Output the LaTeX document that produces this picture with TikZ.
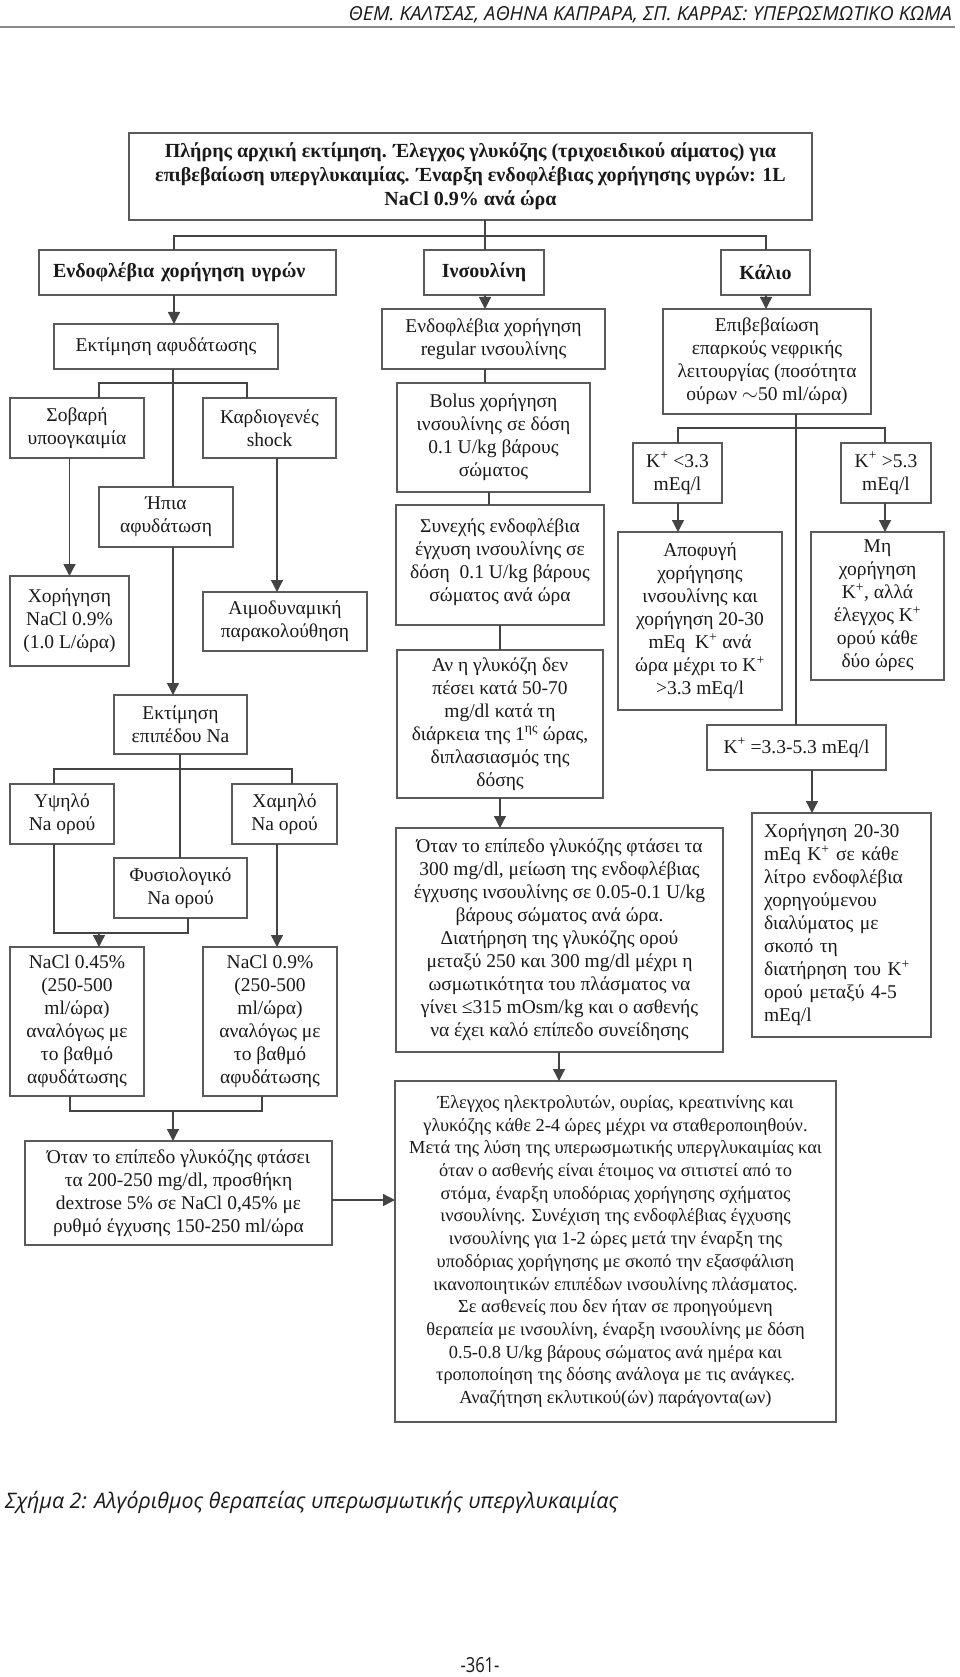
\documentclass[tikz,border=0pt]{standalone}
\usepackage{fontspec}
\usepackage{graphicx}
\setmainfont{Liberation Serif}
\newfontfamily\hdrfont{Open Sans}
\usetikzlibrary{arrows.meta}
\definecolor{txt}{HTML}{1A1A1A}
\definecolor{boxc}{HTML}{5A5A5A}
\definecolor{linec}{HTML}{444444}
\definecolor{rulec}{HTML}{8A8A8A}
\newcommand\fs{\fontsize{19.5}{23}\selectfont}
\newcommand\fsb{\fontsize{18.4}{22.7}\selectfont}
\newcommand\fb{\fontsize{20}{24}\selectfont\bfseries}
\tikzset{
  box/.style={draw=boxc, line width=1.2pt, fill=white, align=center, font=\fs,
    text=txt, inner xsep=2pt, inner ysep=0pt, outer sep=0pt},
  bbox/.style={box, font=\fb},
  ln/.style={draw=linec, line width=1.3pt},
  arr/.style={ln, -{Triangle[length=12pt,width=12pt]}, color=linec},
}
\newcommand\B[7][]{\node[box,minimum width={#5-#3},minimum height={#6-#4},#1] (#2) at ({(#3+#5)/2},{(#4+#6)/2}) {#7};}
\newcommand\Kp{K\textsuperscript{+}}
\begin{document}
\begin{tikzpicture}[x=1pt,y=-1pt]
\fill[white] (0,0) rectangle (960,1677);
\useasboundingbox (0,0) rectangle (960,1677);

% header
\node[anchor=base east, inner sep=0pt, text=txt] (hdr) at (952,21)
  {\resizebox{603pt}{14pt}{\hdrfont\itshape ΘΕΜ. ΚΑΛΤΣΑΣ, ΑΘΗΝΑ ΚΑΠΡΑΡΑ, ΣΠ. ΚΑΡΡΑΣ: ΥΠΕΡΩΣΜΩΤΙΚΟ ΚΩΜΑ}};
\draw[rulec, line width=2pt] (0,27) -- (955,27);

% top
\B[bbox]{top}{129}{133}{812}{220}{Πλήρης αρχική εκτίμηση. Έλεγχος γλυκόζης (τριχοειδικού αίματος) για\\επιβεβαίωση υπεργλυκαιμίας. Έναρξη ενδοφλέβιας χορήγησης υγρών: 1L\\NaCl 0.9\% ανά ώρα}

% row 2
\B[bbox, text width=269pt, inner xsep=14pt, align=left]{A}{39}{250}{336}{295}{Ενδοφλέβια χορήγηση υγρών}
\B[bbox]{Ins}{424}{250}{544}{295}{Ινσουλίνη}
\B[bbox]{Ka}{721}{250}{810}{295}{Κάλιο}

% left column
\B{E1}{54}{324}{278}{369}{Εκτίμηση αφυδάτωσης}
\B{S}{10}{398}{144}{458}{Σοβαρή\\υποογκαιμία}
\B{K}{203}{398}{336}{458}{Καρδιογενές\\shock}
\B{H}{99}{487}{233}{547}{Ήπια\\αφυδάτωση}
\B{X}{10}{576}{129}{666}{Χορήγηση\\NaCl 0.9\%\\(1.0 L/ώρα)}
\B{M}{203}{592}{367}{651}{Αιμοδυναμική\\παρακολούθηση}
\B{N}{114}{695}{247}{754}{Εκτίμηση\\επιπέδου Na}
\B{U}{10}{784}{114}{844}{Υψηλό\\Na ορού}
\B{L}{232}{784}{337}{844}{Χαμηλό\\Na ορού}
\B{F}{114}{858}{247}{918}{Φυσιολογικό\\Na ορού}
\B{N1}{10}{947}{144}{1096}{NaCl 0.45\%\\(250-500\\ml/ώρα)\\αναλόγως με\\το βαθμό\\αφυδάτωσης}
\B{N2}{203}{947}{337}{1096}{NaCl 0.9\%\\(250-500\\ml/ώρα)\\αναλόγως με\\το βαθμό\\αφυδάτωσης}
\B{D}{25}{1141}{332}{1245}{Όταν το επίπεδο γλυκόζης φτάσει\\τα 200-250 mg/dl, προσθήκη\\dextrose 5\% σε NaCl 0,45\% με\\ρυθμό έγχυσης 150-250 ml/ώρα}

% insulin column
\B{R}{382}{309}{605}{369}{Ενδοφλέβια χορήγηση\\regular ινσουλίνης}
\B{Bo}{397}{383}{590}{492}{Bolus χορήγηση\\ινσουλίνης σε δόση\\0.1 U/kg βάρους\\σώματος}
\B{Sy}{396}{505}{604}{625}{Συνεχής ενδοφλέβια\\έγχυση ινσουλίνης σε\\δόση\ \ 0.1 U/kg βάρους\\σώματος ανά ώρα\\[-13pt]\mbox{}}
\B{Av}{397}{650}{603}{798}{Αν η γλυκόζη δεν\\πέσει κατά 50-70\\mg/dl κατά τη\\διάρκεια της 1\textsuperscript{ης} ώρας,\\διπλασιασμός της\\δόσης}
\B{O3}{396}{828}{723}{1052}{Όταν το επίπεδο γλυκόζης φτάσει τα\\300 mg/dl, μείωση της ενδοφλέβιας\\έγχυσης ινσουλίνης σε 0.05-0.1 U/kg\\βάρους σώματος ανά ώρα.\\Διατήρηση της γλυκόζης ορού\\μεταξύ 250 και 300 mg/dl μέχρι η\\ωσμωτικότητα του πλάσματος να\\γίνει ≤315 mOsm/kg και ο ασθενής\\να έχει καλό επίπεδο συνείδησης}
\B[font=\fsb]{Big}{395}{1081}{836}{1422}{Έλεγχος ηλεκτρολυτών, ουρίας, κρεατινίνης και\\γλυκόζης κάθε 2-4 ώρες μέχρι να σταθεροποιηθούν.\\Μετά της λύση της υπερωσμωτικής υπεργλυκαιμίας και\\όταν ο ασθενής είναι έτοιμος να σιτιστεί από το\\στόμα, έναρξη υποδόριας χορήγησης σχήματος\\ινσουλίνης. Συνέχιση της ενδοφλέβιας έγχυσης\\ινσουλίνης για 1-2 ώρες μετά την έναρξη της\\υποδόριας χορήγησης με σκοπό την εξασφάλιση\\ικανοποιητικών επιπέδων ινσουλίνης πλάσματος.\\Σε ασθενείς που δεν ήταν σε προηγούμενη\\θεραπεία με ινσουλίνη, έναρξη ινσουλίνης με δόση\\0.5-0.8 U/kg βάρους σώματος ανά ημέρα και\\τροποποίηση της δόσης ανάλογα με τις ανάγκες.\\Αναζήτηση εκλυτικού(ών) παράγοντα(ων)}

% potassium column
\B{Ep}{663}{309}{871}{414}{Επιβεβαίωση\\επαρκούς νεφρικής\\λειτουργίας (ποσότητα\\ούρων $\sim$50 ml/ώρα)}
\B{Kl}{633}{443}{722}{503}{\Kp\ <3.3\\mEq/l}
\B{Kh}{841}{443}{931}{503}{\Kp\ >5.3\\mEq/l}
\B{Ap}{618}{532}{782}{710}{Αποφυγή\\χορήγησης\\ινσουλίνης και\\χορήγηση 20-30\\mEq\ \ \Kp\ ανά\\ώρα μέχρι το \Kp\\>3.3 mEq/l}
\B{Mh}{811}{532}{944}{680}{Μη\\χορήγηση\\\Kp, αλλά\\έλεγχος \Kp\\ορού κάθε\\δύο ώρες}
\B{Ke}{707}{725}{886}{770}{\Kp\ =3.3-5.3 mEq/l}
\B[text width=155pt, inner xsep=12pt, align=left]{Xk}{752}{813}{931}{1037}{Χορήγηση 20-30\\mEq \Kp\ σε κάθε\\λίτρο ενδοφλέβια\\χορηγούμενου\\διαλύματος με\\σκοπό τη\\διατήρηση του \Kp\\ορού μεταξύ 4-5\\mEq/l}

% ---------- connectors
\coordinate (t0) at (485,236);
\coordinate (tl) at (174,236);
\coordinate (tr) at (766,236);
\draw[ln] (top.south -| t0) -- (t0);
\draw[ln] (tl |- A.north) -- (tl) -- (tr) -- (tr |- Ka.north);
\draw[ln] (t0) -- (t0 |- Ins.north);

% left
\draw[arr] (tl |- A.south) -- (tl |- E1.north);
\coordinate (e0) at (173,383);
\coordinate (el) at (99,383);
\coordinate (er) at (247,383);
\draw[ln] (e0 |- E1.south) -- (e0 |- H.north);
\draw[ln] (el |- S.north) -- (el) -- (er) -- (er |- K.north);
\draw[arr] (S.south -| X.north) -- (X.north);
\coordinate (kx) at (277,500);
\draw[arr] (kx |- K.south) -- (kx |- M.north);
\draw[arr] (e0 |- H.south) -- (e0 |- N.north);
\coordinate (n0) at (180,769);
\coordinate (nl) at (54,769);
\coordinate (nr) at (292,769);
\draw[ln] (n0 |- N.south) -- (n0 |- F.north);
\draw[ln] (nl |- U.north) -- (nl) -- (nr) -- (nr |- L.north);
\coordinate (ml) at (54,933);
\coordinate (mr) at (188,933);
\coordinate (mm) at (99,933);
\draw[ln] (ml |- U.south) -- (ml) -- (mr) -- (mr |- F.south);
\draw[arr] (mm) -- (mm |- N1.north);
\draw[arr] (kx |- L.south) -- (kx |- N2.north);
\coordinate (bl) at (70,1111);
\coordinate (br) at (262,1111);
\coordinate (bm) at (173,1111);
\draw[ln] (bl |- N1.south) -- (bl) -- (br) -- (br |- N2.south);
\draw[arr] (bm) -- (bm |- D.north);
\coordinate (dy) at (0,1200);
\draw[arr] (dy -| D.east) -- (dy -| Big.west);

% insulin
\draw[arr] (t0 |- Ins.south) -- (t0 |- R.north);
\draw[ln] (t0 |- R.south) -- (t0 |- Bo.north);
\coordinate (i1) at (489,0);
\draw[ln] (i1 |- Bo.south) -- (i1 |- Sy.north);
\coordinate (i2) at (500,0);
\draw[ln] (i2 |- Sy.south) -- (i2 |- Av.north);
\draw[arr] (i2 |- Av.south) -- (i2 |- O3.north);
\coordinate (i3) at (559,0);
\draw[arr] (i3 |- O3.south) -- (i3 |- Big.north);

% potassium
\draw[arr] (tr |- Ka.south) -- (tr |- Ep.north);
\coordinate (k0) at (796,428);
\coordinate (kl) at (678,428);
\coordinate (kr) at (885,428);
\draw[ln] (k0 |- Ep.south) -- (k0 |- Ke.north);
\draw[ln] (kl |- Kl.north) -- (kl) -- (kr) -- (kr |- Kh.north);
\draw[arr] (kl |- Kl.south) -- (kl |- Ap.north);
\draw[arr] (kr |- Kh.south) -- (kr |- Mh.north);
\coordinate (k2) at (812,0);
\draw[arr] (k2 |- Ke.south) -- (k2 |- Xk.north);

% caption and page number
\node[anchor=base west, inner sep=0pt, text=txt] (cap) at (5,1508)
  {\resizebox{613pt}{!}{\hdrfont\itshape Σχήμα 2: Αλγόριθμος θεραπείας υπερωσμωτικής υπεργλυκαιμίας}};
\node[anchor=base, inner sep=0pt, text=txt] (pg) at (480,1672)
  {\resizebox{39pt}{15pt}{\hdrfont -361-}};
\end{tikzpicture}
\end{document}
